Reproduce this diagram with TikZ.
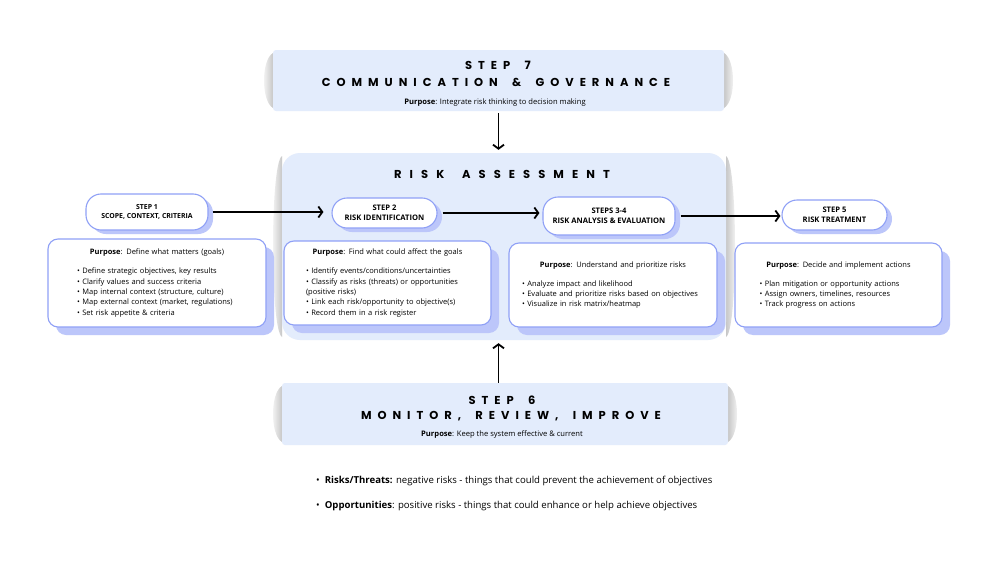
\documentclass[tikz,border=0pt]{standalone}
\usepackage{fontspec}
\setmainfont{Open Sans}
\newfontfamily\headfont{Poppins}[LetterSpace=52, WordSpace=1.7]
\newfontfamily\assessfont{Poppins}[LetterSpace=70, WordSpace=1.7]
\usetikzlibrary{arrows.meta,shadows,positioning}

\definecolor{bandblue}{RGB}{227,236,252}
\definecolor{shadeblue}{RGB}{188,198,250}
\definecolor{lineblue}{RGB}{143,160,246}

\tikzset{
  band/.style={fill=bandblue, draw=none, inner sep=0pt},
  bandtitle/.style={font=\fontsize{11.5}{12}\headfont\bfseries, inner sep=0pt},
  bandnote/.style={font=\fontsize{7.6}{9}\selectfont, inner sep=0pt},
  pill/.style={draw=lineblue, line width=1.1pt, fill=white, rounded corners=15pt,
    align=center, inner sep=2pt, font=\fontsize{7.6}{10}\selectfont\bfseries,
    drop shadow={shadow xshift=5pt, shadow yshift=-4pt, fill=shadeblue, opacity=1}},
  purposebox/.style={draw=lineblue, line width=1.1pt, fill=white, rounded corners=10pt,
    align=left, font=\fontsize{7.5}{10.4}\selectfont,
    drop shadow={shadow xshift=8pt, shadow yshift=-8pt, fill=shadeblue, opacity=1}},
  flow/.style={-{Straight Barb[length=4pt,width=11pt]}, line width=1.8pt},
  legend/.style={anchor=west, inner sep=0pt, font=\fontsize{9.6}{11}\selectfont},
}

\begin{document}
\begin{tikzpicture}[x=1pt,y=-1pt]
\useasboundingbox (0,0) rectangle (999,562);
\fill[white] (0,0) rectangle (999,562);

% grey edges behind the three bands
\foreach \l/\r/\t/\b in {273/724/50/111, 282/726/153/340, 282/728/383/445} {
    \shade[left color=white, right color=black!22]
        (\l,\t+3) .. controls (\l-12,\t+10) and (\l-12,\b-10) .. (\l,\b-3) -- cycle;
    \shade[left color=black!22, right color=white]
        (\r,\t+3) .. controls (\r+12,\t+10) and (\r+12,\b-10) .. (\r,\b-3) -- cycle;
}

% bands
\node[band, minimum width=451pt, minimum height=61pt, rounded corners=3pt] (govern) at (498.5,80.5) {};
\node[band, minimum width=444pt, minimum height=187pt, rounded corners=18pt] (assess) at (504,246.5) {};
\node[band, minimum width=446pt, minimum height=62pt, rounded corners=3pt] (monitor) at (505,414) {};

% band texts
\node[bandtitle] (t7) at (498,65) {STEP 7};
\node[bandtitle] (t7b) at (496,82) {COMMUNICATION \& GOVERNANCE};
\node[bandnote] (n7) at (495,103) {\textbf{Purpose}: Integrate risk thinking to decision making};
\node[bandtitle, font=\fontsize{11.5}{12}\assessfont\bfseries] (ta) at (502,174) {RISK ASSESSMENT};
\node[bandtitle] (t6) at (502,400) {STEP 6};
\node[bandtitle] (t6b) at (511,416) {MONITOR, REVIEW, IMPROVE};
\node[bandnote] (n6) at (502,435) {\textbf{Purpose}: Keep the system effective \& current};

% steps
\node[pill, minimum width=122pt, minimum height=36pt, font=\fontsize{6.9}{9.5}\selectfont\bfseries] (step1) at (147,212) {STEP 1\\SCOPE, CONTEXT, CRITERIA};
\node[pill, minimum width=105pt, minimum height=30pt] (step2) at (384.5,213) {STEP 2\\RISK IDENTIFICATION};
\node[pill, minimum width=132pt, minimum height=38pt] (step34) at (609,216) {STEPS 3-4\\RISK ANALYSIS \& EVALUATION};
\node[pill, minimum width=105pt, minimum height=30pt] (step5) at (834.5,215) {STEP 5\\RISK TREATMENT};

% purposes
\node[purposebox, minimum width=218pt, minimum height=88pt, text width=160pt] (p1) at (157,283) {%
\makebox[\linewidth]{\textbf{Purpose}: Define what matters (goals)}\\[8.5pt]
\textbullet\ Define strategic objectives, key results\\
\textbullet\ Clarify values and success criteria\\
\textbullet\ Map internal context (structure, culture)\\
\textbullet\ Map external context (market, regulations)\\
\textbullet\ Set risk appetite \& criteria};
\node[purposebox, minimum width=207pt, minimum height=84pt, text width=163pt] (p2) at (387.5,283) {%
\makebox[\linewidth]{\textbf{Purpose}: Find what could affect the goals}\\[8.5pt]
\textbullet\ Identify events/conditions/uncertainties\\
\textbullet\ Classify as risks (threats) or opportunities\\
(positive risks)\\
\textbullet\ Link each risk/opportunity to objective(s)\\
\textbullet\ Record them in a risk register};
\node[purposebox, minimum width=208pt, minimum height=84pt, text width=182pt] (p3) at (613,285) {%
\makebox[\linewidth]{\textbf{Purpose}: Understand and prioritize risks}\\[8.5pt]
\textbullet\ Analyze impact and likelihood\\
\textbullet\ Evaluate and prioritize risks based on objectives\\
\textbullet\ Visualize in risk matrix/heatmap};
\node[purposebox, minimum width=207pt, minimum height=84pt, text width=158pt] (p4) at (838.5,285) {%
\makebox[\linewidth]{\textbf{Purpose}: Decide and implement actions}\\[8.5pt]
\textbullet\ Plan mitigation or opportunity actions\\
\textbullet\ Assign owners, timelines, resources\\
\textbullet\ Track progress on actions};

% connectors
\draw[flow, shorten <=4pt, shorten >=8pt] (step1) -- (step1 -| step2.west);
\draw[flow, shorten <=5pt, shorten >=3pt] (step2) -- (step2 -| step34.west);
\draw[flow, shorten <=5pt, shorten >=1pt] (step34.east) -- (step34.east -| step5.west);
\draw[flow, shorten <=2pt, shorten >=3pt] (govern.south) -- (govern.south |- assess.north);
\draw[flow, shorten >=3pt] (monitor.north -| govern.south) -- (govern.south |- assess.south);

% legend
\node[legend] (legrisk) at (316,481) {\textbullet\hspace{5pt}\textbf{Risks/Threats:} negative risks - things that could prevent the achievement of objectives};
\node[legend] (legopp) at (316,506) {\textbullet\hspace{5pt}\textbf{Opportunities}: positive risks - things that could enhance or help achieve objectives};

\end{tikzpicture}
\end{document}
